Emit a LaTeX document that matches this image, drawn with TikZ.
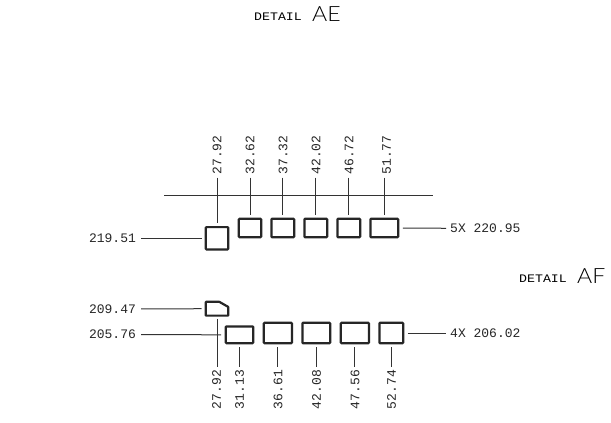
\documentclass[tikz,border=0pt]{standalone}
\usepackage{fontspec}
\setmainfont{Liberation Sans}
\newfontfamily\dimfont{Liberation Mono}
\newfontfamily\thinfont{Lato Light}
\tikzset{
  box/.style={draw=black!85,line width=2.2pt,rounded corners=0.8pt,inner sep=0pt,rectangle},
  leader/.style={draw=black!80,line width=1pt},
  dim/.style={font=\dimfont\fontsize{13}{13}\selectfont,inner sep=0pt,text=black!85},
  vdim/.style={dim,rotate=90},
  small/.style={font=\dimfont\fontsize{11.5}{12}\selectfont,inner sep=0pt,text=black,xscale=1.15},
  big/.style={font=\thinfont\fontsize{21}{21}\selectfont,inner sep=0pt,text=black,xscale=1.1,anchor=base west}
}
\begin{document}
\begin{tikzpicture}[x=1pt,y=-1pt]
\useasboundingbox (0,0) rectangle (611,423);
\fill[white] (0,0) rectangle (611,423);
% titles
\node[small,anchor=base west] (dae) at (254,20.5) {DETAIL};
\node[big] (ae) at (312,21) {AE};
\node[small,anchor=base west] (daf) at (519,282.5) {DETAIL};
\node[big] (af) at (577,283) {AF};
% upper row
\coordinate (hl) at (164,195.7);
\coordinate (hr) at (432.7,195.7);
\draw[leader] (hl) -- (hr);
\node[box,minimum width=22.4pt,minimum height=22.4pt] (a1) at (217,238.3) {};
\node[box,minimum width=22.4pt,minimum height=18.4pt] (a2) at (250,228) {};
\node[box,minimum width=22.8pt,minimum height=18.4pt] (a3) at (282.8,228) {};
\node[box,minimum width=22.8pt,minimum height=18.4pt] (a4) at (315.8,228) {};
\node[box,minimum width=22.8pt,minimum height=18.4pt] (a5) at (348.8,228) {};
\node[box,minimum width=27.8pt,minimum height=18.4pt] (a6) at (384.3,228) {};
\node[vdim] (t1) at (217,155) {27.92};
\node[vdim] (t2) at (250,155) {32.62};
\node[vdim] (t3) at (283,155) {37.32};
\node[vdim] (t4) at (316,155) {42.02};
\node[vdim] (t5) at (349,155) {46.72};
\node[vdim] (t6) at (386.7,155) {51.77};
\foreach \b/\t in {a1/t1,a2/t2,a3/t3,a4/t4,a5/t5,a6/t6}
  \draw[leader,shorten <=3pt,shorten >=3pt] (\t.west -| \b.north) -- (\b.north);
\node[dim] (l1) at (112.5,238.3) {219.51};
\draw[leader,shorten <=5pt,shorten >=3pt] (l1.east) -- (a1.west);
\node[dim,anchor=west] (r1) at (450,228.3) {5X 220.95};
\draw[leader,shorten <=3.5pt,shorten >=4pt] (a6.east) -- (r1.west);
% lower row
\node[inner sep=0pt,minimum width=24.6pt,minimum height=16pt] (c0) at (217,308.7) {};
\draw[draw=black!85,line width=2.2pt,line join=round]
  (205.8,301.8) -- (219.3,301.8) -- (228.2,306.9) -- (228.2,315.6) -- (205.8,315.6) -- cycle;
\node[box,minimum width=27.4pt,minimum height=16.8pt] (c1) at (239.5,334.8) {};
\node[box,minimum width=28.1pt,minimum height=20.4pt] (c2) at (277.85,333) {};
\node[box,minimum width=27.8pt,minimum height=20.4pt] (c3) at (316.3,333) {};
\node[box,minimum width=28.1pt,minimum height=20.4pt] (c4) at (354.85,333) {};
\node[box,minimum width=23.8pt,minimum height=20.4pt] (c5) at (391.3,333) {};
\node[vdim] (b0) at (216.7,389.5) {27.92};
\node[vdim] (b1) at (239.5,389.5) {31.13};
\node[vdim] (b2) at (278,389.5) {36.61};
\node[vdim] (b3) at (316.5,389.5) {42.08};
\node[vdim] (b4) at (355,389.5) {47.56};
\node[vdim] (b5) at (391.6,389.5) {52.74};
\draw[leader,shorten <=2pt,shorten >=3pt] (c0.south) -- (c0.south |- b0.east);
\foreach \b/\t in {c1/b1,c2/b2,c3/b3,c4/b4,c5/b5}
  \draw[leader,shorten <=3pt,shorten >=3pt] (\b.south) -- (\b.south |- \t.east);
\node[dim] (l2) at (112.5,309) {209.47};
\draw[leader,shorten <=5pt,shorten >=3pt] (l2.east) -- (c0.west);
\node[dim] (l3) at (112.5,334.6) {205.76};
\draw[leader,shorten <=5pt,shorten >=3.5pt] (l3.east) -- (c1.west);
\node[dim,anchor=west] (r2) at (450,333) {4X 206.02};
\draw[leader,shorten <=3.5pt,shorten >=4pt] (c5.east) -- (r2.west);
\end{tikzpicture}
\end{document}
